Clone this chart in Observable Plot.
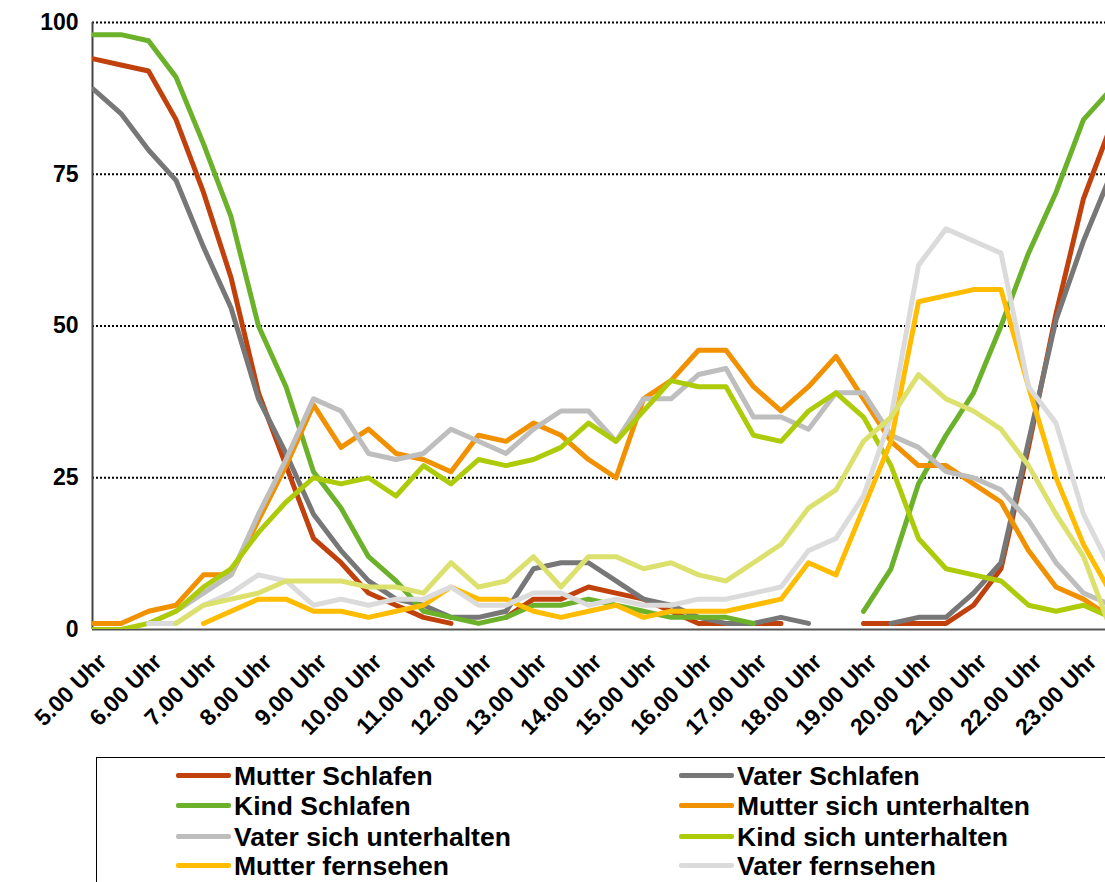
<!DOCTYPE html>
<html>
<head>
<meta charset="utf-8">
<script src="https://cdn.jsdelivr.net/npm/d3@7"></script>
<script src="https://cdn.jsdelivr.net/npm/@observablehq/plot@0.6"></script>
<style>
  html, body { margin: 0; padding: 0; background: #fff; }
  body { width: 1105px; height: 882px; overflow: hidden; position: relative; font-family: Arial, "Liberation Sans", sans-serif; }
  #chart { position: absolute; left: 0; top: 0; }
  #legend { position: absolute; left: 96px; top: 757px; width: 1040px; height: 140px; border: 1px solid #000; box-sizing: border-box; }
  .sw { position: absolute; width: 55px; height: 5px; border-radius: 2px; }
  .lt { position: absolute; font-weight: bold; font-size: 26.5px; line-height: 22px; height: 22px; color: #000; white-space: nowrap; }
</style>
</head>
<body>
<div id="chart"></div>
<div id="legend"></div>
<script>
// half-hour time slots (index 0 = 5.00 Uhr)
const slots = ["5.00","5.30","6.00","6.30","7.00","7.30","8.00","8.30","9.00","9.30",
  "10.00","10.30","11.00","11.30","12.00","12.30","13.00","13.30","14.00","14.30",
  "15.00","15.30","16.00","16.30","17.00","17.30","18.00","18.30","19.00","19.30",
  "20.00","20.30","21.00","21.30","22.00","22.30","23.00","23.30"];

const tickLabels = ["5.00 Uhr","6.00 Uhr","7.00 Uhr","8.00 Uhr","9.00 Uhr","10.00 Uhr","11.00 Uhr",
  "12.00 Uhr","13.00 Uhr","14.00 Uhr","15.00 Uhr","16.00 Uhr","17.00 Uhr","18.00 Uhr","19.00 Uhr",
  "20.00 Uhr","21.00 Uhr","22.00 Uhr","23.00 Uhr"];

const yTicks = [0, 25, 50, 75, 100];

const seriesNames = ["Mutter Schlafen","Vater Schlafen","Kind Schlafen","Mutter sich unterhalten",
  "Vater sich unterhalten","Kind sich unterhalten","Mutter fernsehen","Vater fernsehen","Kind fernsehen"];

const seriesColors = ["#C0410C","#777777","#6BB12A","#F29100","#BEBEBE","#AECB0A","#FFBC00","#DBDBDB","#DCE16E"];

const mutterSchlafen    = [94,93,92,84,72,58,39,27,15,11,6,4,2,1,null,2,5,5,7,6,5,3,1,1,1,1,null,null,1,1,1,1,4,10,30,52,71,83];
const vaterSchlafen     = [89,85,79,74,63,53,38,29,19,13,8,5,4,2,2,3,10,11,11,8,5,4,2,1,1,2,1,null,null,1,2,2,6,11,31,51,64,75];
const kindSchlafen      = [98,98,97,91,80,68,50,40,26,20,12,8,3,2,1,2,4,4,5,4,3,2,2,2,1,null,null,null,3,10,24,32,39,50,62,72,84,89];
const mutterUnterhalten = [1,1,3,4,9,9,18,27,37,30,33,29,28,26,32,31,34,32,28,25,38,41,46,46,40,36,40,45,38,31,27,27,24,21,13,7,5,2];
const vaterUnterhalten  = [null,null,1,3,6,9,19,28,38,36,29,28,29,33,31,29,33,36,36,31,38,38,42,43,35,35,33,39,39,32,30,26,25,23,18,11,6,4];
const kindUnterhalten   = [0,0,1,3,7,10,16,21,25,24,25,22,27,24,28,27,28,30,34,31,36,41,40,40,32,31,36,39,35,27,15,10,9,8,4,3,4,2];
const mutterFernsehen   = [null,null,null,null,1,3,5,5,3,3,2,3,4,7,5,5,3,2,3,4,2,3,3,3,4,5,11,9,20,31,54,55,56,56,40,25,14,6];
const vaterFernsehen    = [null,null,1,1,4,6,9,8,4,5,4,5,5,7,4,4,6,6,4,5,4,4,5,5,6,7,13,15,22,35,60,66,64,62,40,34,19,10];
const kindFernsehen     = [null,null,null,1,4,5,6,8,8,8,7,7,6,11,7,8,12,7,12,12,10,11,9,8,11,14,20,23,31,35,42,38,36,33,27,19,12,0];

const seriesValues = [mutterSchlafen, vaterSchlafen, kindSchlafen, mutterUnterhalten,
  vaterUnterhalten, kindUnterhalten, mutterFernsehen, vaterFernsehen, kindFernsehen];

const FONT = 'Arial, "Liberation Sans", sans-serif';
const W = 1105, H = 757;
const mLeft = 92, mTop = 22, yBase = 629;
const step = 27.5; // px per half hour in the reference
const x0 = -1 / step;               // index 0 sits 1px inside the axis
const x1 = (W - (mLeft + 1)) / step;

const tickIdx = tickLabels.map((_, k) => k * 2);

const lineMarks = seriesNames.map((name, s) => {
  const rows = slots.map((t, i) => ({ i, t, v: seriesValues[s][i] }));
  return Plot.line(rows, {
    x: "i", y: "v",
    stroke: seriesColors[s], strokeWidth: 5,
    strokeLinejoin: "round", strokeLinecap: "round",
    clip: true
  });
});

const plot = Plot.plot({
  width: W, height: H,
  marginLeft: mLeft, marginRight: 0, marginTop: mTop, marginBottom: H - yBase,
  style: { fontFamily: FONT, background: "white" },
  x: { type: "linear", domain: [x0, x1], axis: null },
  y: { domain: [0, 100], axis: null },
  marks: [
    Plot.ruleY(yTicks.filter(d => d > 0), { stroke: "#000", strokeWidth: 2, strokeDasharray: "2,2" }),
    Plot.ruleY([0], { stroke: "#555", strokeWidth: 2 }),
    Plot.ruleX([x0], { stroke: "#444", strokeWidth: 2 }),
    ...lineMarks,
    Plot.text(yTicks, {
      y: d => d, frameAnchor: "left", dx: -14, textAnchor: "end",
      text: d => String(d), fontSize: 23, fontWeight: "bold", fill: "#000"
    }),
    Plot.text(tickIdx, {
      x: d => d, y: 0, text: (d, k) => tickLabels[k],
      rotate: -45, textAnchor: "end", lineAnchor: "top",
      dx: 3, dy: 22, fontSize: 23, fontWeight: "bold", fill: "#000"
    })
  ]
});
document.getElementById("chart").appendChild(plot);

// legend (two columns); only the rows that fit in the visible window are shown
const legend = document.getElementById("legend");
const rowY = [18, 48, 79, 108];
seriesNames.forEach((name, s) => {
  const col = s % 2, row = Math.floor(s / 2);
  if (row >= rowY.length) return;
  const sw = document.createElement("div");
  sw.className = "sw";
  sw.style.left = (col === 0 ? 79 : 582) + "px";
  sw.style.top = (rowY[row] - 3) + "px";
  sw.style.background = seriesColors[s];
  legend.appendChild(sw);
  const lt = document.createElement("div");
  lt.className = "lt";
  lt.textContent = name;
  lt.style.left = (col === 0 ? 137 : 640) + "px";
  lt.style.top = (rowY[row] - 11) + "px";
  legend.appendChild(lt);
});
</script>
</body>
</html>
